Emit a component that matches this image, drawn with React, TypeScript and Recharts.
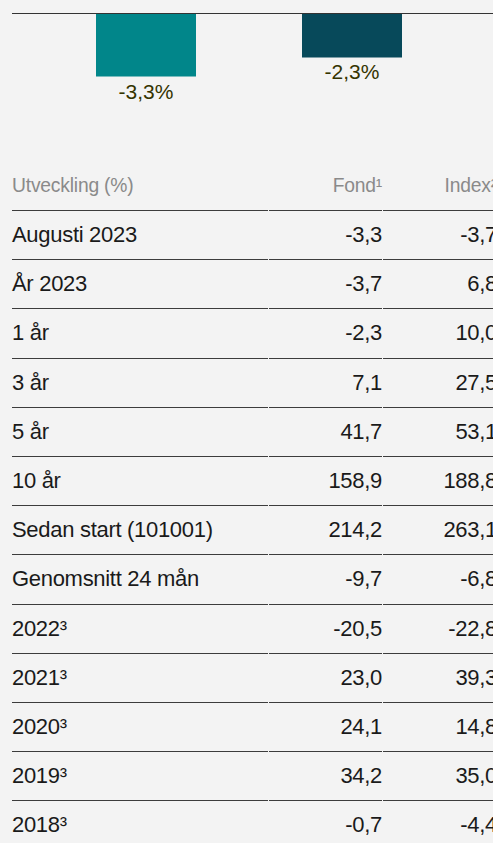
import React from "react";
import { BarChart, Bar, XAxis, YAxis, Cell, LabelList } from "recharts";

const barCategories = ["Fond", "Index"];
const barValues = [-3.3, -2.3];
const barColors = ["#01868a", "#07495a"];

const headerLabels = ["Utveckling (%)", "Fond¹", "Index²"];
const rowLabels = [
  "Augusti 2023",
  "År 2023",
  "1 år",
  "3 år",
  "5 år",
  "10 år",
  "Sedan start (101001)",
  "Genomsnitt 24 mån",
  "2022³",
  "2021³",
  "2020³",
  "2019³",
  "2018³",
];
const fondValues = [-3.3, -3.7, -2.3, 7.1, 41.7, 158.9, 214.2, -9.7, -20.5, 23.0, 24.1, 34.2, -0.7];
const indexValues = [-3.7, 6.8, 10.0, 27.5, 53.1, 188.8, 263.1, -6.8, -22.8, 39.3, 14.8, 35.0, -4.4];

const fmt = (v: number) => v.toFixed(1).replace(".", ",");

const chartData = barCategories.map((name, i) => ({ name, value: barValues[i], color: barColors[i] }));

const FONT = '"Liberation Sans", Arial, Helvetica, sans-serif';

const BarLabel = (props: any) => {
  const { x, y, width, height, value } = props;
  const bottom = Math.max(y, y + height);
  return (
    <text
      x={x + width / 2}
      y={bottom + 22}
      textAnchor="middle"
      fill="#333300"
      fontSize={21}
      fontFamily={FONT}
    >
      {fmt(value) + "%"}
    </text>
  );
};

const ROW_H = 49.2;
const COLS = [
  { left: 0, width: 256, align: "left" as const },
  { left: 257, width: 113, align: "right" as const },
  { left: 371, width: 114, align: "right" as const },
];

export default function App() {
  return (
    <div
      style={{
        position: "absolute",
        left: 0,
        top: 0,
        width: 493,
        height: 843,
        overflow: "hidden",
        background: "#f3f3f3",
        fontFamily: FONT,
      }}
    >
      <div style={{ position: "absolute", left: 0, top: 0 }}>
        <BarChart
          width={493}
          height={120}
          data={chartData}
          margin={{ top: 12.5, right: 0, left: 12, bottom: 11 }}
        >
          <XAxis
            dataKey="name"
            orientation="top"
            height={1}
            tick={false}
            tickLine={false}
            axisLine={{ stroke: "#333333", strokeWidth: 1 }}
            padding={{ left: 31, right: 38 }}
          />
          <YAxis hide domain={[-5, 0]} />
          <Bar dataKey="value" barSize={100} isAnimationActive={false}>
            {chartData.map((d, i) => (
              <Cell key={i} fill={d.color} />
            ))}
            <LabelList dataKey="value" content={BarLabel} />
          </Bar>
        </BarChart>
      </div>

      <div style={{ position: "absolute", left: 12, top: 161, width: 485 }}>
        <div style={{ position: "relative", height: 49 }}>
          {headerLabels.map((h, c) => (
            <div
              key={c}
              style={{
                position: "absolute",
                left: COLS[c].left,
                width: COLS[c].width,
                top: 0,
                height: 49,
                lineHeight: "49px",
                textAlign: COLS[c].align,
                color: "#8a8a8a",
                fontSize: 19.3,
                letterSpacing: -0.2,
                whiteSpace: "nowrap",
              }}
            >
              {h}
            </div>
          ))}
        </div>
        {rowLabels.map((label, r) => {
          const cells = [label, fmt(fondValues[r]), fmt(indexValues[r])];
          return (
            <div key={r} style={{ position: "absolute", left: 0, top: 49 + r * ROW_H, width: 485, height: ROW_H }}>
              {cells.map((t, c) => (
                <div
                  key={c}
                  style={{
                    position: "absolute",
                    left: COLS[c].left,
                    width: COLS[c].width,
                    top: 0,
                    height: ROW_H,
                    boxSizing: "border-box",
                    borderTop: "1px solid #3c3c3c",
                    lineHeight: ROW_H - 1 + "px",
                    textAlign: COLS[c].align,
                    color: "#1a1a1a",
                    fontSize: 22,
                    letterSpacing: -0.3,
                    whiteSpace: "nowrap",
                  }}
                >
                  {t}
                </div>
              ))}
            </div>
          );
        })}
      </div>
    </div>
  );
}
